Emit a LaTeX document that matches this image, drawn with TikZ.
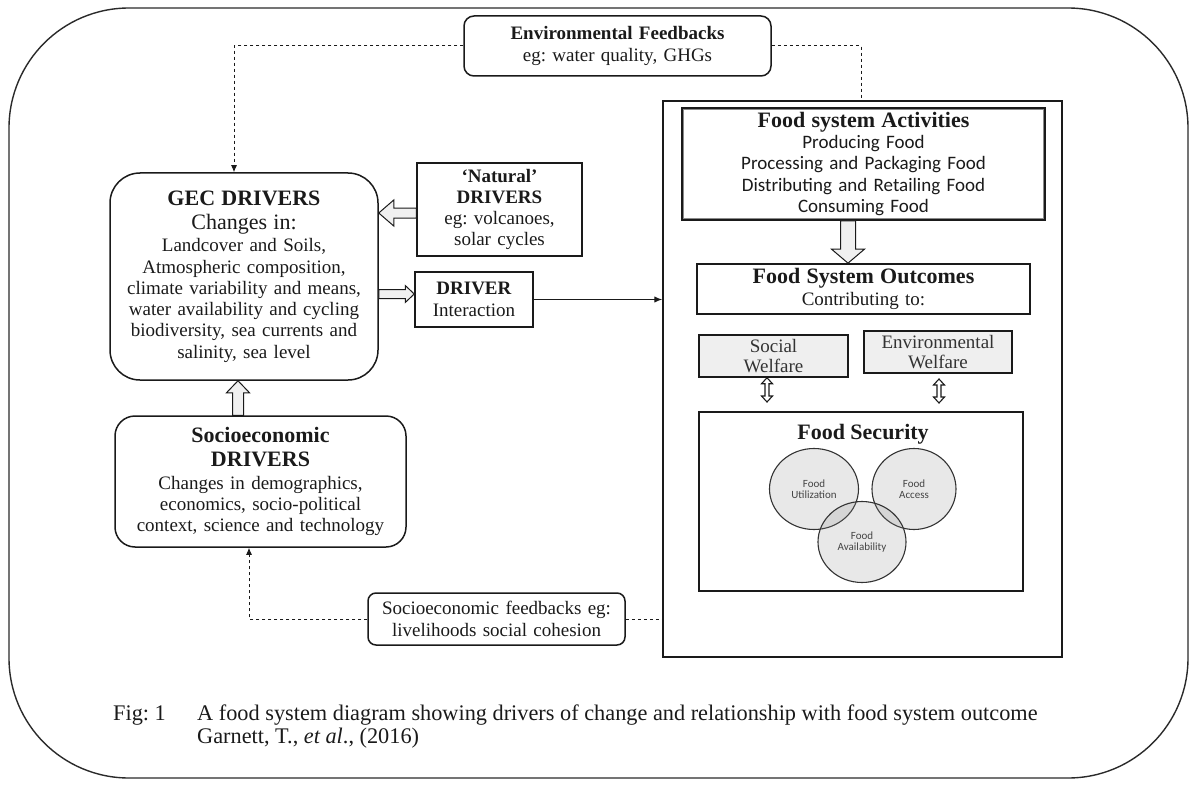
\documentclass[tikz,border=0pt]{standalone}
\usepackage{fontspec}
\setmainfont{Liberation Serif}
\newfontfamily\calfont{Carlito}
\usetikzlibrary{calc,arrows.meta,shapes.geometric}
\newcommand{\fs}[2]{\fontsize{#1}{#2}\selectfont}
\frenchspacing
\definecolor{ink}{HTML}{1A1A1A}
\definecolor{framecol}{HTML}{2A2A2A}
\definecolor{arrowfill}{HTML}{F0F0F0}
\definecolor{welfill}{HTML}{EFEFEF}
\definecolor{circfill}{HTML}{8C8C8C}
\definecolor{circline}{HTML}{333333}
\definecolor{circtext}{HTML}{444444}
\definecolor{softink}{HTML}{333333}
\definecolor{innergray}{HTML}{8A8A8A}
\tikzset{
  frame/.style={draw=framecol, line width=1.4pt, rounded corners=120pt, inner sep=0pt},
  box/.style={draw=ink, line width=1.5pt, inner sep=0pt, align=center, font=\fs{19}{21.3}, text=ink},
  wbox/.style={box, fill=welfill, font=\fs{19}{20.5}, text=softink},
  circ/.style={ellipse, draw=circline, line width=1.1pt, fill=circfill, fill opacity=0.2, text opacity=1,
    inner sep=0pt, align=center, font=\calfont\fs{11}{11.5}, text=circtext},
  hollow/.style={draw=ink, line width=1pt, fill=arrowfill, line join=miter},
  dbl/.style={draw=ink, line width=1.1pt, fill=white, line join=miter},
  fb/.style={draw=ink, line width=1pt, dash pattern=on 3.5pt off 2.5pt, -{Latex[length=7pt,width=6pt]}},
  fbline/.style={draw=ink, line width=1pt, dash pattern=on 3.5pt off 2.5pt},
  conn/.style={draw=ink, line width=1.2pt, -{Latex[length=8pt,width=6.5pt]}},
  actinner/.style={draw=innergray, line width=0.7pt},
  captxt/.style={anchor=base west, inner sep=0pt, font=\fs{22.3}{24}, text=ink},
  blockarrow/.style n args={3}{to path={
    let \p1=(\tikztostart), \p2=(\tikztotarget),
        \n1={veclen(\x2-\x1,\y2-\y1)}, \n2={atan2(\y2-\y1,\x2-\x1)} in
    ($(\p1)+({\n2+90}:#1)$) --
    ($(\p1)+({\n2}:{\n1-#3})+({\n2+90}:#1)$) --
    ($(\p1)+({\n2}:{\n1-#3})+({\n2+90}:#2)$) --
    (\p2) --
    ($(\p1)+({\n2}:{\n1-#3})+({\n2-90}:#2)$) --
    ($(\p1)+({\n2}:{\n1-#3})+({\n2-90}:#1)$) --
    ($(\p1)+({\n2-90}:#1)$) -- cycle}},
  dblarrow/.style n args={3}{to path={
    let \p1=(\tikztostart), \p2=(\tikztotarget),
        \n1={veclen(\x2-\x1,\y2-\y1)}, \n2={atan2(\y2-\y1,\x2-\x1)} in
    (\p1) --
    ($(\p1)+({\n2}:#3)+({\n2+90}:#2)$) --
    ($(\p1)+({\n2}:#3)+({\n2+90}:#1)$) --
    ($(\p1)+({\n2}:{\n1-#3})+({\n2+90}:#1)$) --
    ($(\p1)+({\n2}:{\n1-#3})+({\n2+90}:#2)$) --
    (\p2) --
    ($(\p1)+({\n2}:{\n1-#3})+({\n2-90}:#2)$) --
    ($(\p1)+({\n2}:{\n1-#3})+({\n2-90}:#1)$) --
    ($(\p1)+({\n2}:#3)+({\n2-90}:#1)$) --
    ($(\p1)+({\n2}:#3)+({\n2-90}:#2)$) -- cycle}}
}
\begin{document}
\begin{tikzpicture}[x=1pt,y=-1pt]
\useasboundingbox (0,0) rectangle (1200,789);

% outer frame
\node[frame, minimum width=1179pt, minimum height=770pt] (frame) at (598.5,393) {};

% left part
\node[box, rounded corners=10pt, minimum width=307pt, minimum height=60pt, text width=300pt] (env) at (617.5,46)
  {\textbf{Environmental Feedbacks}\\eg: water quality, GHGs};

\node[box, rounded corners=30pt, minimum width=268pt, minimum height=207pt, text width=260pt] (gec) at (244,276.5)
  {\fs{22}{24}\textbf{GEC DRIVERS}\\Changes in:\\\fs{19}{22.5}Landcover and Soils,\\\fs{19}{21.3}Atmospheric composition,\\climate variability and means,\\water availability and cycling\\biodiversity, sea currents and\\salinity, sea level};

\node[box, minimum width=165pt, minimum height=93pt, text width=160pt] (nat) at (499.5,209.5)
  {\textbf{‘Natural’}\\\textbf{DRIVERS}\\eg: volcanoes,\\solar cycles};

\node[box, minimum width=118pt, minimum height=55pt, text width=110pt] (drv) at (474,299.5)
  {\textbf{DRIVER}\\Interaction};

\node[box, rounded corners=20pt, minimum width=291pt, minimum height=131pt, text width=280pt] (socio) at (260.5,481.5)
  {\fs{22}{24}\textbf{Socioeconomic}\\\textbf{DRIVERS}\\\fs{19}{23}Changes in demographics,\\\fs{19}{21.3}economics, socio-political\\context, science and technology};

\node[box, rounded corners=8pt, minimum width=257pt, minimum height=52pt, text width=250pt] (sfb) at (496.5,619)
  {Socioeconomic feedbacks eg:\\livelihoods social cohesion};

% right part
\node[box, minimum width=399pt, minimum height=556pt] (food) at (862.5,379) {};

\node[box, line width=1.8pt, minimum width=363pt, minimum height=112pt, text width=355pt] (act) at (863.5,164)
  {\fs{22}{22}\textbf{Food system Activities}\\\calfont\fs{19}{21.3}Producing Food\\Processing and Packaging Food\\Distributing and Retailing Food\\Consuming Food};
\draw[actinner] ($(act.south west)+(2.5,-2.5)$) rectangle ($(act.north east)+(-2.5,2.5)$);

\node[box, line width=1.7pt, minimum width=333pt, minimum height=50pt, text width=325pt] (out) at (863.5,289)
  {\fs{22}{22}\textbf{Food System Outcomes}\\\fs{19}{22}Contributing to:};

\node[wbox, minimum width=149pt, minimum height=42pt, text width=140pt] (soc) at (773.5,356) {Social\\Welfare};
\node[wbox, minimum width=148pt, minimum height=42pt, text width=140pt] (envw) at (938,352) {Environmental\\Welfare};

\node[box, line width=2pt, minimum width=324pt, minimum height=179pt] (fsec) at (861,501.5) {};
\node[font=\fs{22}{22}\bfseries, text=ink, inner sep=0pt] (fsect) at (863,434) {Food Security};

\node[circ, minimum width=89pt, minimum height=81pt] (util) at (814,489) {Food\\Utilization};
\node[circ, minimum width=84pt, minimum height=81pt] (acc) at (914,489) {Food\\Access};
\node[circ, minimum width=88pt, minimum height=81pt] (avail) at (862,542) {Food\\Availability};

% hollow block arrows
\draw[hollow] (nat.west |- 0,213) to[blockarrow={5pt}{13pt}{15pt}] (gec.east |- 0,213);
\draw[hollow] (gec.east |- 0,294) to[blockarrow={4.5pt}{8.5pt}{9pt}] (drv.west |- 0,294);
\draw[hollow] (socio.north -| 238,0) to[blockarrow={5.5pt}{11.5pt}{12pt}] (gec.south -| 238,0);
\draw[hollow] (act.south -| 848,0) to[blockarrow={7.5pt}{16.5pt}{14pt}] (out.north -| 848,0);

% small double arrows
\coordinate (sw2) at (767,402);
\coordinate (ew1) at (939,379);
\coordinate (ew2) at (939,403);
\draw[dbl] (soc.south -| 767,0) to[dblarrow={2pt}{5.5pt}{6pt}] (sw2);
\draw[dbl] (ew1) to[dblarrow={2pt}{5.5pt}{6pt}] (ew2);

% connectors
\draw[fb] (env.west) -| (gec.north -| 234,0);
\draw[fbline] (env.east) -| (food.north -| 861,0);
\draw[fb] (sfb.west) -| (socio.south -| 249,0);
\draw[fbline] (sfb.east) -- (sfb.east -| food.west);
\draw[conn] (drv.east) -- (drv.east -| food.west);

% caption
\node[captxt] (fig) at (113,720) {Fig: 1};
\node[captxt] (cap1) at (197,720) {A food system diagram showing drivers of change and relationship with food system outcome};
\node[captxt] (cap2) at (197,743) {Garnett, T., \textit{et al}., (2016)};
\end{tikzpicture}
\end{document}
